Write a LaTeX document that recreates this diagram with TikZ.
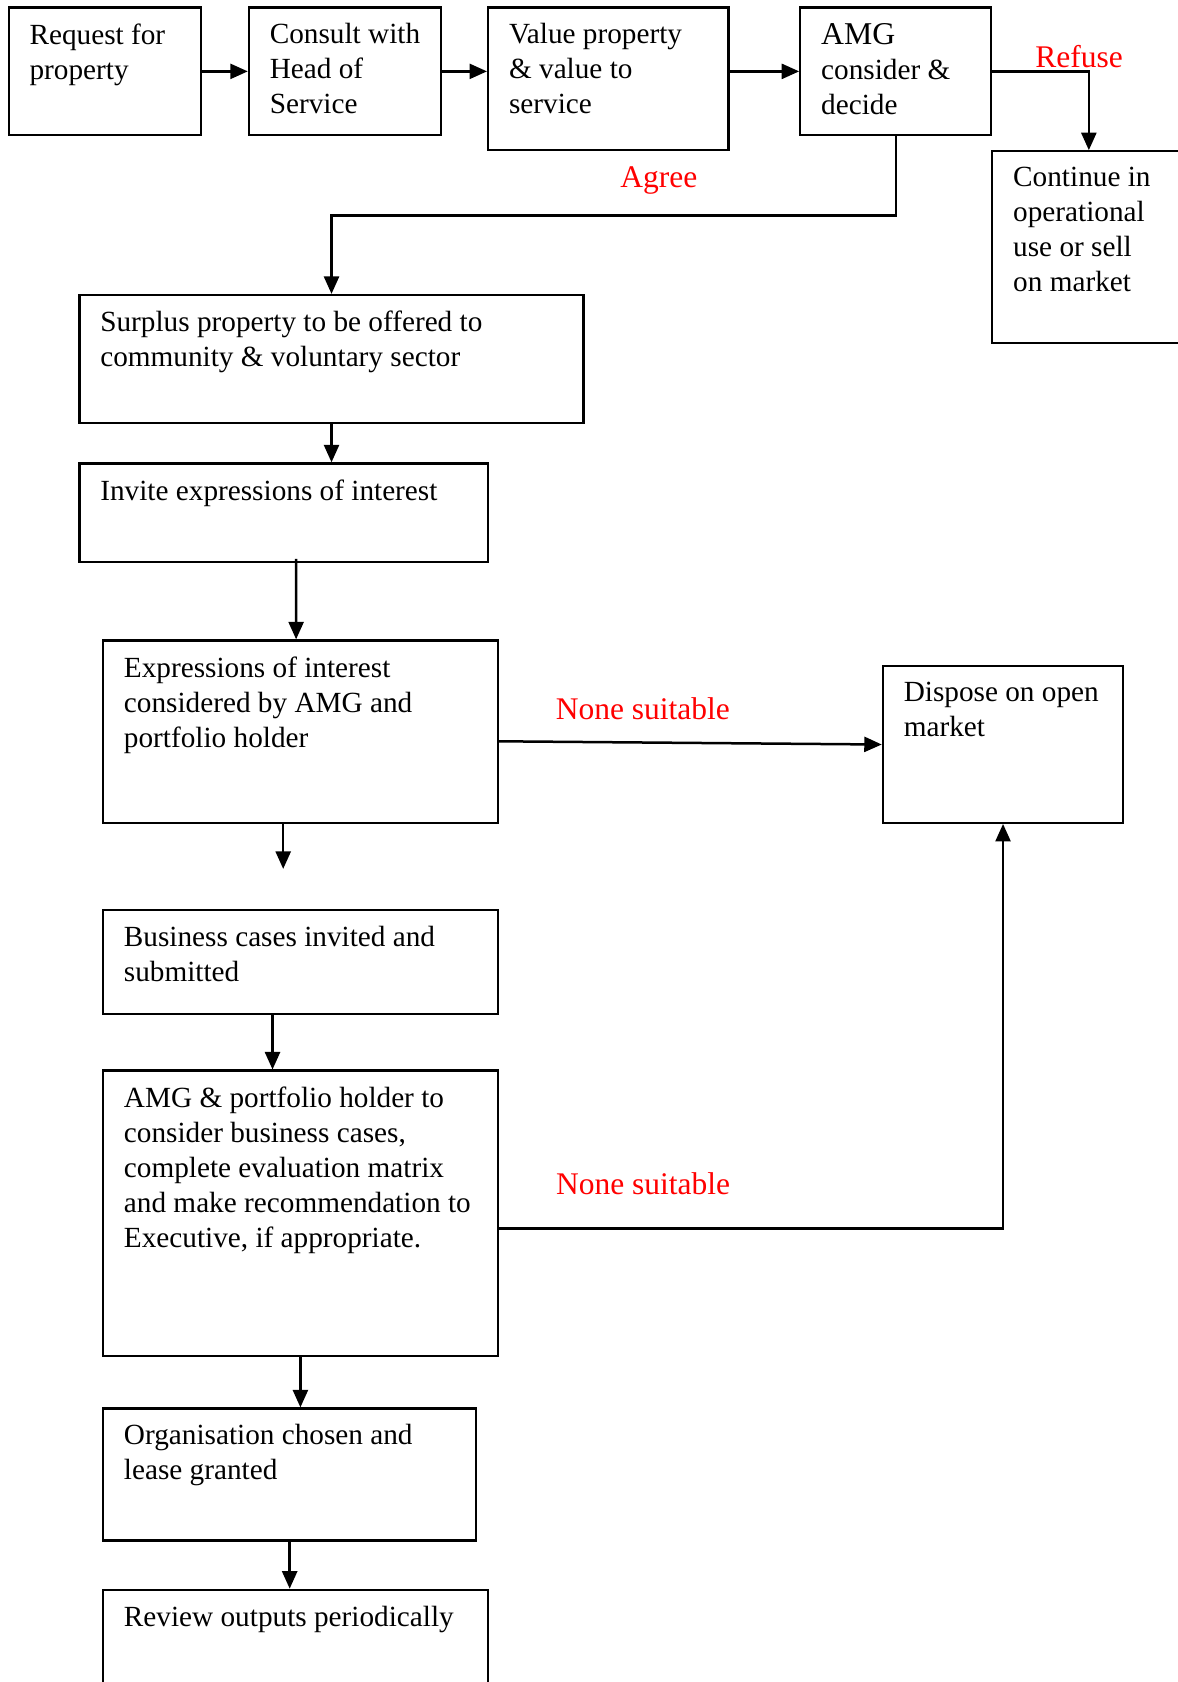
\documentclass[tikz,border=0pt]{standalone}
\usepackage{fontspec}
\setmainfont{Liberation Serif}
\usetikzlibrary{arrows.meta}
\newlength{\upx}
\setlength{\upx}{0.4291pt}
\tikzset{box/.style 2 args={draw, line width=0.9pt, anchor=north west, inner xsep=0pt, inner ysep=15\upx,
    font=\fontsize{11.7}{14}\selectfont,
    execute at begin node={\begin{minipage}[t][\dimexpr #2\upx-30\upx\relax][t]{#1\upx}\raggedright\leftskip=19.5\upx\relax},
    execute at end node={\end{minipage}}},
  lbl/.style={text=red, inner sep=0pt, font=\fontsize{12.6}{14}\selectfont},
  arr/.style={draw, line width=1pt, -{Triangle[length=7pt,width=6pt]}}}

\begin{document}
\begin{tikzpicture}[x=0.4291pt, y=-0.4291pt]
				\useasboundingbox (0,0) rectangle (1098,1568);
				\node[box={179}{119}] (req) at (7,6) {Request for\\property};
				\node[box={179}{119}] (cons) at (231,6) {Consult with\\Head of\\Service};
				\node[box={224}{133}] (val) at (454,6) {Value property\\\& value to\\service};
				\node[box={178}{119}] (amg) at (745,6) {{\fontsize{12.7}{14}\selectfont AMG}\\consider \&\\decide};
				\node[box={180}{179}] (cont) at (924,140) {Continue in\\operational\\use or sell\\on market};
				\node[box={470}{119}] (surp) at (73,274) {Surplus property to be offered to\\community \& voluntary sector};
				\node[box={381}{92}] (inv) at (73,431) {Invite expressions of interest};
				\node[box={368}{170}] (expr) at (95,596) {Expressions of interest\\considered by AMG and\\portfolio holder};
				\node[box={224}{146}] (disp) at (822,620) {Dispose on open\\market};
				\node[box={368}{97}] (bus) at (95,847) {Business cases invited and\\submitted};
				\node[box={368}{266}] (eval) at (95,997) {AMG \& portfolio holder to\\consider business cases,\\complete evaluation matrix\\and make recommendation to\\Executive, if appropriate.};
				\node[box={348}{123}] (org) at (95,1312) {Organisation chosen and\\lease granted};
				\node[box={359}{110}] (rev) at (95,1481) {Review outputs periodically};
				\coordinate (gap) at (264,810);

				\draw[arr] (req.east) -- (cons.west);
				\draw[arr] (cons.east) -- (cons.east -| val.west);
				\draw[arr] (amg.west -| val.east) -- (amg.west);
				\draw[arr] (amg.east) -| node[lbl, pos=0.45, above=1pt] {Refuse} (cont.north);
				\draw[arr] (amg.south) -- ++(0,74) -| node[lbl, pos=0.21, above=8pt] {Agree} (surp.north);
				\draw[arr] (surp.south) -- (surp.south |- inv.north);
				\draw[arr] ([xshift=11.5\upx, yshift=4\upx]inv.south) -- ([xshift=-4\upx]expr.north);
				\draw[arr] (expr.south -| gap) -- (gap);
				\draw[arr] ([yshift=-9\upx]expr.east) -- node[lbl, pos=0.376, above=8.6pt] {None suitable} (disp.west);
				\draw[arr] ([xshift=-26\upx]bus.south) -- ([xshift=-26\upx]eval.north);
				\draw[arr] ([yshift=-14\upx]eval.east) -| node[lbl, pos=0.143, above=13pt] {None suitable} (disp.south);
				\draw[arr] (eval.south) -- (eval.south |- org.north);
				\draw[arr] (org.south) -- (org.south |- rev.north);
			\end{tikzpicture}
\end{document}
